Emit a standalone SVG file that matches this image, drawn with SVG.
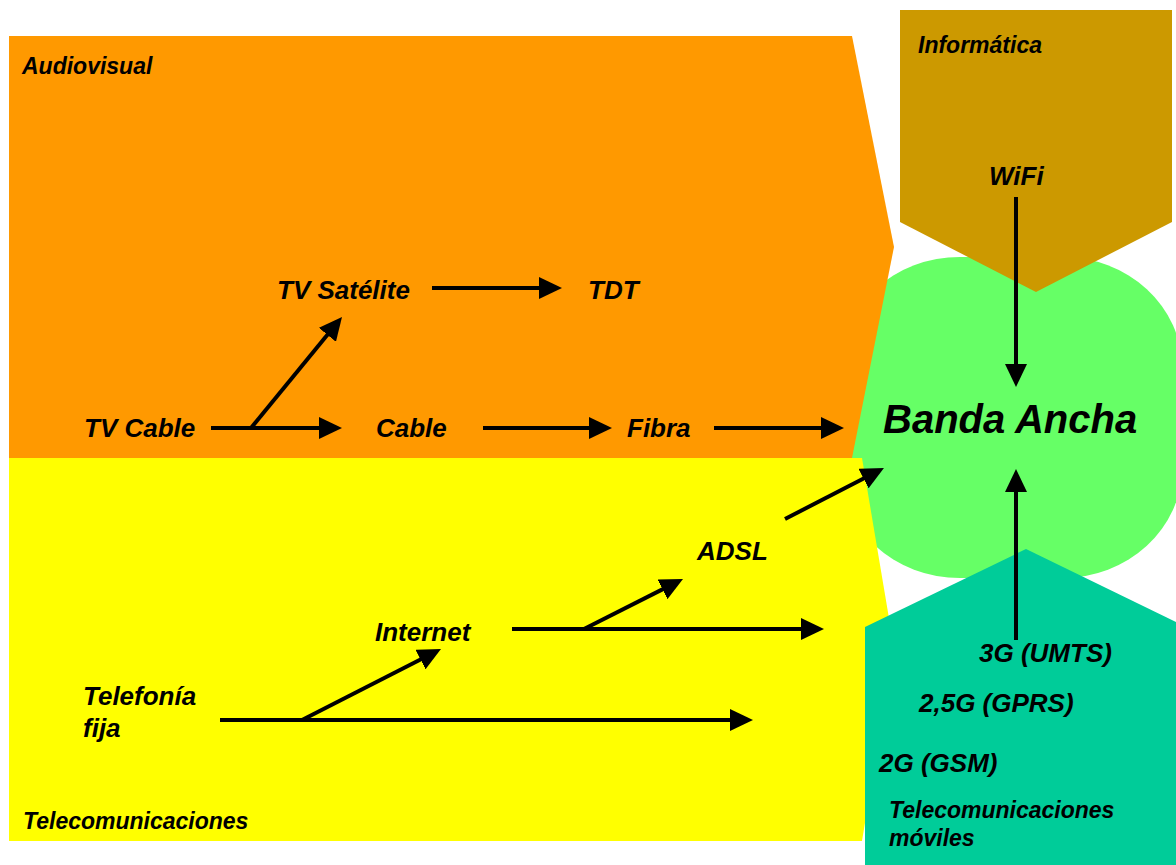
<svg xmlns="http://www.w3.org/2000/svg" width="1176" height="865" viewBox="0 0 1176 865">
  <defs>
    <marker id="head" markerUnits="userSpaceOnUse" markerWidth="23" markerHeight="22" refX="11" refY="11" orient="auto">
      <path d="M0,0 L23,11 L0,22 z" fill="#000"/>
    </marker>
    <style>
      text { font-family: "Liberation Sans", Arial, sans-serif; font-weight: bold; font-style: italic; fill: #000; }
      .area { font-size: 23px; }
      .lbl { font-size: 26px; }
      .big { font-size: 40px; }
      .arrow { stroke: #000; stroke-width: 4; fill: none; marker-end: url(#head); }
      .line { stroke: #000; stroke-width: 4; fill: none; }
    </style>
  </defs>

  <rect width="1176" height="865" fill="#fff"/>

  <!-- broadband hub -->
  <g id="banda-ancha">
    <rect x="840" y="257" width="342" height="321" rx="120" ry="110" fill="#66FF66"/>
  </g>

  <!-- sector areas -->
  <g id="audiovisual">
    <polygon points="9,36 852,36 894,247 852,458 9,458" fill="#FF9900"/>
    <text class="area" x="22" y="74">Audiovisual</text>
  </g>
  <g id="telecomunicaciones">
    <polygon points="9,458 862,458 894,648 862,841 9,841" fill="#FFFF00"/>
    <text class="area" x="23" y="829">Telecomunicaciones</text>
  </g>
  <g id="informatica">
    <polygon points="900,10 1172,10 1172,222 1036,292 900,222" fill="#CC9900"/>
    <text class="area" x="918" y="53">Informática</text>
  </g>
  <g id="moviles">
    <polygon points="865,627 1026,549 1180,624 1180,870 865,870" fill="#00CC99"/>
    <text class="area" x="889" y="818">Telecomunicaciones</text>
    <text class="area" x="889" y="846">móviles</text>
  </g>

  <!-- technology nodes -->
  <g id="tv-cable"><text class="lbl" x="84" y="437">TV Cable</text></g>
  <g id="tv-satelite"><text class="lbl" x="277" y="299">TV Satélite</text></g>
  <g id="tdt"><text class="lbl" x="588" y="299">TDT</text></g>
  <g id="cable"><text class="lbl" x="376" y="437">Cable</text></g>
  <g id="fibra"><text class="lbl" x="627" y="437">Fibra</text></g>
  <g id="wifi"><text class="lbl" x="989" y="185">WiFi</text></g>
  <g id="banda-ancha-label"><text class="big" x="883" y="433">Banda Ancha</text></g>
  <g id="adsl"><text class="lbl" x="697" y="560">ADSL</text></g>
  <g id="internet"><text class="lbl" x="375" y="641">Internet</text></g>
  <g id="telefonia-fija">
    <text class="lbl" x="83" y="705">Telefonía</text>
    <text class="lbl" x="83" y="737">fija</text>
  </g>
  <g id="umts"><text class="lbl" x="979" y="662">3G (UMTS)</text></g>
  <g id="gprs"><text class="lbl" x="919" y="712">2,5G (GPRS)</text></g>
  <g id="gsm"><text class="lbl" x="879" y="772">2G (GSM)</text></g>

  <!-- connectors -->
  <g id="connectors">
    <line class="arrow" x1="211" y1="428" x2="330" y2="428"/>
    <line class="arrow" x1="251" y1="428" x2="334.4" y2="326.3"/>
    <line class="arrow" x1="432" y1="288" x2="550" y2="288"/>
    <line class="arrow" x1="483" y1="428" x2="600" y2="428"/>
    <line class="arrow" x1="714" y1="428" x2="832" y2="428"/>
    <line class="arrow" x1="1016" y1="197" x2="1016" y2="375"/>
    <line class="arrow" x1="1016" y1="640" x2="1016" y2="481"/>
    <line class="arrow" x1="785" y1="519" x2="873.3" y2="473.5"/>
    <line class="arrow" x1="512" y1="629" x2="812" y2="629"/>
    <line class="arrow" x1="584" y1="629" x2="672.3" y2="584.4"/>
    <line class="arrow" x1="220" y1="720" x2="741" y2="720"/>
    <line class="arrow" x1="302" y1="720" x2="430.3" y2="654.5"/>
  </g>
</svg>
